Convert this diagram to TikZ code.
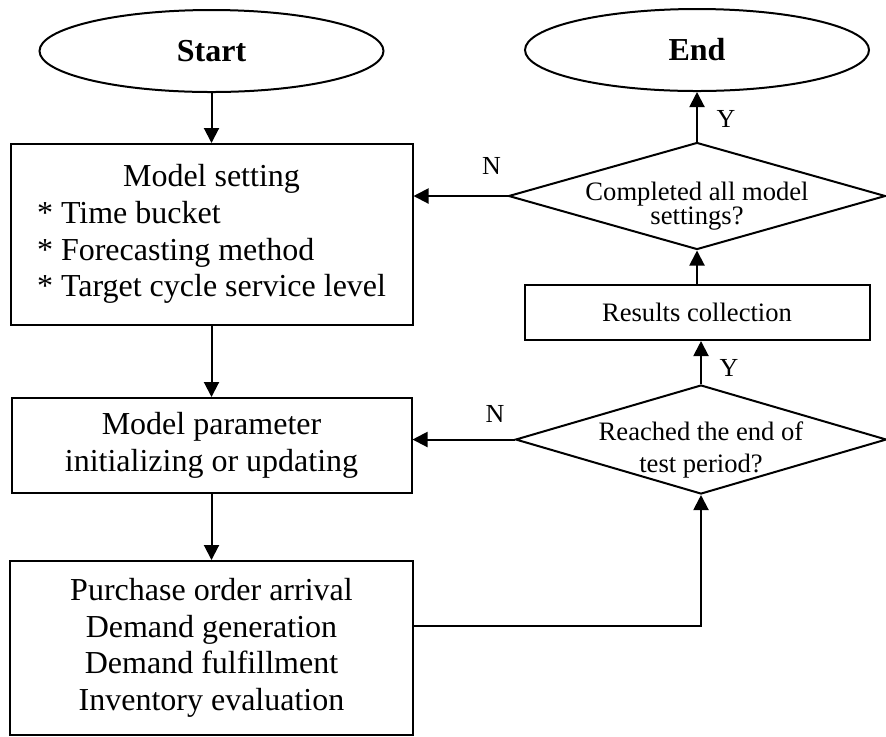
\documentclass[tikz,border=0pt]{standalone}
\usepackage{fontspec}
\setmainfont{Liberation Serif}
\usetikzlibrary{shapes,arrows.meta,calc}

\begin{document}
\begin{tikzpicture}[x=0.5pt,y=-0.5pt,
  every node/.style={font=\fontsize{16}{18.3}\selectfont},
  term/.style={draw,ellipse,line width=1pt,minimum width=172pt,minimum height=41pt,font=\fontsize{16}{18.3}\selectfont\bfseries},
  box/.style={draw,rectangle,line width=1pt,align=center,inner sep=0pt},
  decision/.style={draw,diamond,line width=1pt,inner sep=0pt},
  dtext/.style={align=center,yshift=-5pt},
  flow/.style={line width=1pt,-{Triangle[length=7.5pt,width=7.5pt]}},
  yn/.style={font=\fontsize{13}{13}\selectfont}]
\useasboundingbox (0,0) rectangle (886,736);
% left column
\node[term] (start) at (211.5,51) {Start};
\node[box,minimum width=201pt,minimum height=90.5pt] (set) at (211.5,234.5)
  {\begin{tabular}{@{}l@{}}\multicolumn{1}{c}{Model setting}\\{*} Time bucket\\{*} Forecasting method\\{*} Target cycle service level\end{tabular}};
\node[box,minimum width=200pt,minimum height=47.5pt] (param) at (211.5,445.5) {Model parameter\\initializing or updating};
\node[box,minimum width=201.5pt,minimum height=87pt] (purch) at (211.5,648) {Purchase order arrival\\Demand generation\\Demand fulfillment\\Inventory evaluation};
% right column
\node[term] (stop) at (697,50) {End};
\node[decision,minimum width=188.5pt,minimum height=53.5pt,
  label={[dtext,font=\fontsize{13.3}{12}\selectfont]center:{Completed all model\\settings?}}] (done) at (697,196) {};
\node[box,font=\fontsize{13.3}{13.3}\selectfont,minimum width=172.5pt,minimum height=27.5pt] (results) at (697,312.5) {Results collection};
\node[decision,minimum width=185.5pt,minimum height=54.5pt,
  label={[dtext,font=\fontsize{13.3}{16}\selectfont]center:{Reached the end of\\test period?}}] (reached) at (701,439.5) {};
% connectors
\draw[flow] (start.south) -- (start.south |- set.north);
\draw[flow] (set.south) -- (set.south |- param.north);
\draw[flow] (param.south) -- (param.south |- purch.north);
\draw[flow] ([yshift=11pt]purch.east) -| (reached.south);
\draw[flow] (reached.north) -- node[yn,pos=0.38,right=5.5pt] {Y} (reached.north |- results.south);
\draw[flow] (reached.west) -- node[yn,pos=0.19,above=4.7pt] {N} (reached.west -| param.east);
\draw[flow] (results.north) -- (results.north |- done.south);
\draw[flow] (done.north) -- node[yn,pos=0.45,right=6pt] {Y} (done.north |- stop.south);
\draw[flow] (done.west) -- node[yn,pos=0.17,above=7pt] {N} (done.west -| set.east);
\end{tikzpicture}
\end{document}
